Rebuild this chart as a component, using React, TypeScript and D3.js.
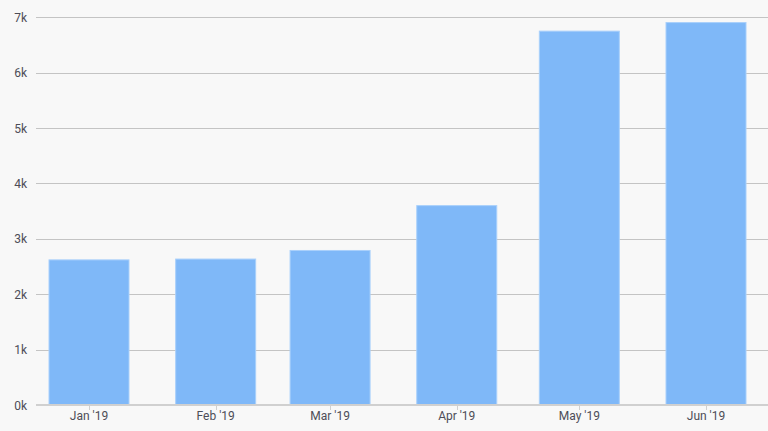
import React from "react";
import * as d3 from "d3";

const months = ["2019-01-01", "2019-02-01", "2019-03-01", "2019-04-01", "2019-05-01", "2019-06-01"];
const values = [2620, 2635, 2790, 3600, 6750, 6905];
const yTicks = [0, 1000, 2000, 3000, 4000, 5000, 6000, 7000];

const width = 768;
const height = 431;

export default function App() {
  const parse = d3.utcParse("%Y-%m-%d");
  const dates = months.map((m) => parse(m) as Date);

  const x = d3
    .scaleUtc()
    .domain([dates[0], dates[dates.length - 1]])
    .range([89, 706]);
  const y = d3.scaleLinear().domain([0, 7000]).range([405, 17.3]);

  const barW = 80;
  const fmtX = d3.utcFormat("%b '%y");
  const fmtY = (v: number) => `${v / 1000}k`;

  return (
    <div style={{ position: "fixed", left: 0, top: 0 }}>
      <svg width={width} height={height} style={{ display: "block", fontFamily: "Roboto, sans-serif" }}>
        <rect width={width} height={height} fill="#f8f8f8" />
        {/* grid */}
        {yTicks.map((t) => (
          <g key={t}>
            {t > 0 && (
              <line x1={36} x2={width} y1={Math.round(y(t)) + 0.5} y2={Math.round(y(t)) + 0.5} stroke="#c4c4c4" strokeWidth={1} />
            )}
            <text x={27} y={y(t) + 4.5} textAnchor="end" fontSize={12} fill="#4d4d57">
              {fmtY(t)}
            </text>
          </g>
        ))}
        {/* bars */}
        {dates.map((d, i) => (
          <rect
            key={i}
            x={x(d) - barW / 2}
            y={y(values[i])}
            width={barW}
            height={y(0) - y(values[i])}
            fill="#7fb8f8"
            stroke="#a9d0fb"
            strokeWidth={1}
          />
        ))}
        {/* x axis */}
        <line x1={36} x2={width} y1={405} y2={405} stroke="#d0d0d0" strokeWidth={2} />
        {dates.map((d, i) => (
          <g key={i}>
            <line x1={Math.round(x(d)) + 0.5} x2={Math.round(x(d)) + 0.5} y1={406} y2={410} stroke="#d0d0d0" />
            <text x={x(d)} y={420} textAnchor="middle" fontSize={12} fill="#4d4d57">
              {fmtX(d)}
            </text>
          </g>
        ))}
      </svg>
    </div>
  );
}
